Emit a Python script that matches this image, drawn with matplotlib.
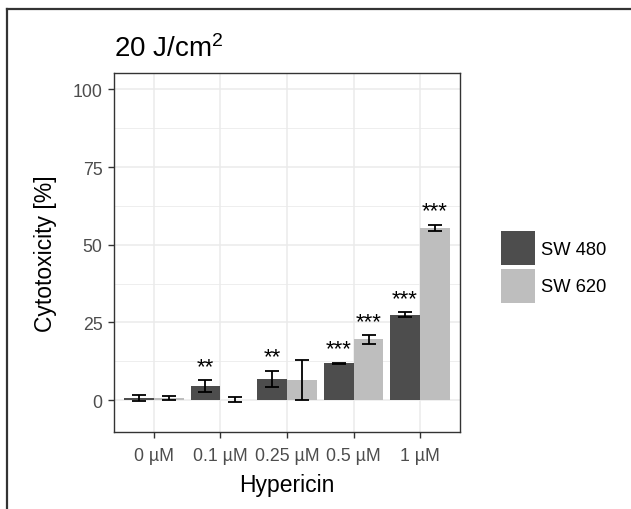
import numpy as np
import matplotlib
matplotlib.use("Agg")
import matplotlib.pyplot as plt
from matplotlib.patches import Patch
from matplotlib.lines import Line2D

plt.rcParams['font.family'] = ['Liberation Sans', 'DejaVu Sans']
plt.rcParams['mathtext.fontset'] = 'custom'
plt.rcParams['mathtext.rm'] = 'Liberation Sans'
plt.rcParams['mathtext.default'] = 'regular'

categories = ["0 µM", "0.1 µM", "0.25 µM", "0.5 µM", "1 µM"]
series_names = ["SW 480", "SW 620"]
sw480_mean = [0.8, 4.5, 6.9, 11.8, 27.5]
sw480_err = [1.0, 2.0, 2.6, 0.3, 0.75]
sw620_mean = [0.7, 0.2, 6.5, 19.6, 55.4]
sw620_err = [0.7, 0.8, 6.3, 1.4, 1.1]
sw480_sig = ["", "**", "**", "***", "***"]
sw620_sig = ["", "", "", "***", "***"]
yticks = [0, 25, 50, 75, 100]

colors = ["#4d4d4d", "#bebebe"]

W, H = 631, 510
fig = plt.figure(figsize=(W / 100, H / 100), dpi=100)
ax = fig.add_axes([114 / W, 1 - 433 / H, (460 - 114) / W, (433 - 74) / H])

x = np.arange(1, len(categories) + 1)
bw = 0.45
for i, (m, e, sig) in enumerate([(sw480_mean, sw480_err, sw480_sig),
                                  (sw620_mean, sw620_err, sw620_sig)]):
    xs = x + (i - 0.5) * bw
    ax.bar(xs, m, width=bw, color=colors[i], zorder=2, label=series_names[i])
    ax.errorbar(xs, m, yerr=e, fmt="none", ecolor="black", elinewidth=1.3,
                capsize=5, capthick=1.3, zorder=3)
    for xx, mm, ee, s in zip(xs, m, e, sig):
        if s:
            ax.text(xx, mm + ee + 1.0, s, ha="center", va="bottom",
                    fontsize=16, color="black", zorder=4)

ax.set_xlim(0.4, 5.6)
ax.set_ylim(-10.25, 105.25)
ax.set_xticks(x)
ax.set_xticklabels(categories)
ax.set_yticks(yticks)
ax.set_yticks([12.5, 37.5, 62.5, 87.5], minor=True)
ax.grid(True, which="major", color="#ebebeb", lw=1.1, zorder=0)
ax.grid(True, which="minor", axis="y", color="#ebebeb", lw=0.6, zorder=0)
ax.set_axisbelow(True)
for sp in ax.spines.values():
    sp.set_color("#333333")
    sp.set_linewidth(1.0)
ax.tick_params(axis="both", which="major", length=4, width=1, color="#333333",
               labelsize=12.8, labelcolor="#4d4d4d")
ax.tick_params(axis="x", which="major", pad=7)
ax.tick_params(axis="y", which="major", pad=4.3)
ax.tick_params(axis="both", which="minor", length=0)

ax.set_xlabel("Hypericin", fontsize=16.5, color="black", labelpad=6)
ax.set_ylabel("Cytotoxicity [%]", fontsize=16.5, color="black")
ax.yaxis.set_label_coords(-0.165, 0.5)

fig.text(114 / W, 1 - 57 / H, r"20 J/cm$^{2}$", fontsize=20, ha="left",
         va="baseline", color="black")

fs_leg = 13.2
px = fs_leg * 100 / 72
handles = [Patch(facecolor=colors[0], edgecolor="none"),
           Patch(facecolor=colors[1], edgecolor="none")]
leg = fig.legend(handles, series_names, loc="upper left",
                 bbox_to_anchor=(501 / W, 1 - 232 / H), frameon=False,
                 fontsize=fs_leg, handlelength=34 / px, handleheight=2.477,
                 labelspacing=3.5 / px, handletextpad=6 / px, borderpad=0,
                 borderaxespad=0)

# outer frame
fig.add_artist(Line2D([7 / W, 1.0], [1 - 9.5 / H, 1 - 9.5 / H],
                      transform=fig.transFigure, color="#333333", lw=1.6))
fig.add_artist(Line2D([7 / W, 7 / W], [1 - 9.5 / H, 0.0],
                      transform=fig.transFigure, color="#333333", lw=1.6))

fig.savefig("out.png", dpi=100, facecolor="white")
